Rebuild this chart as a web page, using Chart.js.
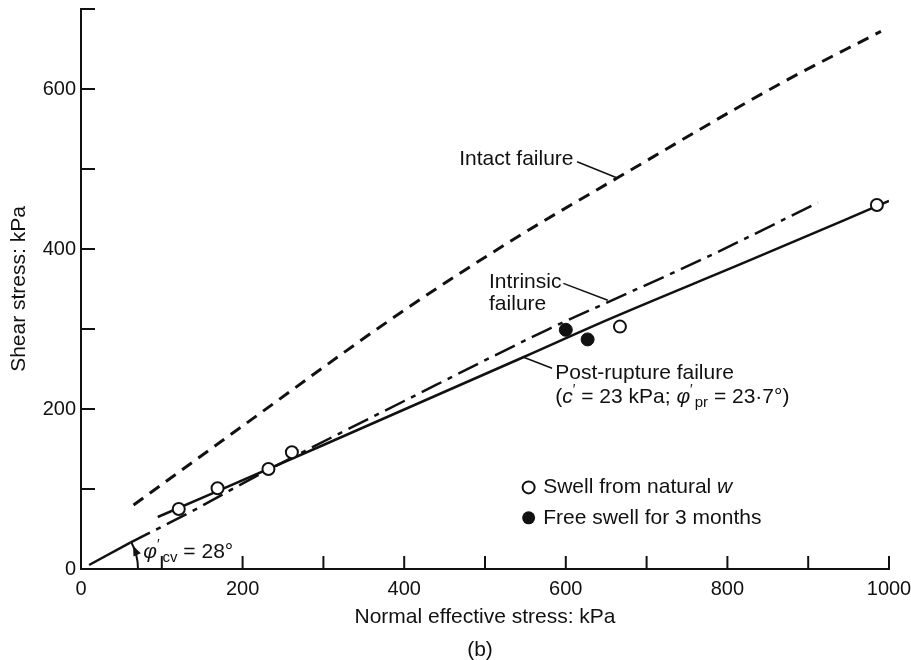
<!DOCTYPE html>
<html>
<head>
<meta charset="utf-8">
<script src="https://cdn.jsdelivr.net/npm/chart.js"></script>
<style>
  html, body { margin: 0; padding: 0; background: #fff; }
  canvas { display: block; }
</style>
</head>
<body>
<canvas id="grafico" width="911" height="660"></canvas>
<script>
// valores (kPa)
const intactX = [65, 203, 395, 532, 664, 866, 990];
const intactY = [80, 181, 320, 410, 489, 607, 672];
const intrinsicX = [61, 137, 213, 400, 577, 653, 775, 912];
const intrinsicY = [33, 72, 114, 210, 299, 334, 390, 458];
const phiCvX = [10, 61];
const phiCvY = [5, 33];
const postRuptureX = [95, 300, 548, 653, 828, 1000];
const postRuptureY = [65, 155, 265, 312, 386, 460];
const swellNaturalX = [121, 169, 232, 261, 667, 985];
const swellNaturalY = [75, 101, 125, 146, 303, 455];
const freeSwellX = [600, 627];
const freeSwellY = [299, 287];
const xTickLabels = [0, 200, 400, 600, 800, 1000];
const yTickLabels = [0, 200, 400, 600];

const FONT = '"Liberation Sans", Arial, Helvetica, sans-serif';
const INK = '#111';

const pares = (xs, ys) => xs.map((v, i) => ({ x: v, y: ys[i] }));

// texto con tramos (cursiva, subindices...)
function tramos(ctx, x, y, partes) {
  let cx = x;
  partes.forEach(p => {
    ctx.font = (p.italic ? 'italic ' : '') + (p.size || 21) + 'px ' + FONT;
    ctx.fillText(p.t, cx, y + (p.dy || 0));
    cx += ctx.measureText(p.t).width + (p.gap || 0);
  });
}

function linea(ctx, x0, y0, x1, y1) {
  ctx.beginPath();
  ctx.moveTo(x0, y0);
  ctx.lineTo(x1, y1);
  ctx.stroke();
}

const anotaciones = {
  id: 'anotaciones',
  afterDraw(chart) {
    const { ctx, scales: { x, y } } = chart;
    const px = v => x.getPixelForValue(v);
    const py = v => y.getPixelForValue(v);
    ctx.save();

    // marcas hacia dentro en los ejes
    ctx.strokeStyle = INK;
    ctx.lineWidth = 2;
    x.ticks.forEach(t => {
      if (t.value === 0) return;
      linea(ctx, px(t.value), y.bottom, px(t.value), y.bottom - 13);
    });
    y.ticks.forEach(t => {
      if (t.value === 0) return;
      linea(ctx, x.left, py(t.value), x.left + 14, py(t.value));
    });

    // arco del angulo phi cv
    const cx = px(0), cy = py(0), r = 57;
    ctx.lineWidth = 2;
    ctx.beginPath();
    ctx.arc(cx, cy, r, -28 * Math.PI / 180, 0);
    ctx.stroke();
    const th = -24 * Math.PI / 180;
    const tipX = cx + r * Math.cos(th), tipY = cy + r * Math.sin(th);
    const dx = Math.sin(th), dy = -Math.cos(th); // sentido antihorario
    const bx = tipX - dx * 10, by = tipY - dy * 10;
    ctx.fillStyle = INK;
    ctx.beginPath();
    ctx.moveTo(tipX, tipY);
    ctx.lineTo(bx - dy * 4, by + dx * 4);
    ctx.lineTo(bx + dy * 4, by - dx * 4);
    ctx.closePath();
    ctx.fill();

    // lineas guia de los rotulos
    ctx.lineWidth = 1.5;
    linea(ctx, px(614), py(509), px(663), py(489));
    linea(ctx, px(597), py(357), px(652), py(336));
    linea(ctx, px(583), py(251), px(547), py(265));

    // rotulos
    ctx.fillStyle = INK;
    ctx.textBaseline = 'middle';
    ctx.textAlign = 'left';
    tramos(ctx, px(468), py(512), [{ t: 'Intact failure' }]);
    tramos(ctx, px(505), py(359), [{ t: 'Intrinsic' }]);
    tramos(ctx, px(505), py(331), [{ t: 'failure' }]);
    tramos(ctx, px(587), py(245), [{ t: 'Post-rupture failure' }]);
    tramos(ctx, px(587), py(215), [
      { t: '(' }, { t: 'c', italic: true }, { t: '\u2032', size: 14, dy: -7 },
      { t: ' = 23 kPa; ' }, { t: '\u03c6', italic: true },
      { t: '\u2032', size: 14, dy: -7, gap: 2 }, { t: 'pr', size: 15, dy: 6 },
      { t: ' = 23\u00b77\u00b0)' }
    ]);
    tramos(ctx, px(77), py(21), [
      { t: '\u03c6', italic: true }, { t: '\u2032', size: 14, dy: -7, gap: 3 },
      { t: 'cv', size: 15, dy: 6 }, { t: ' = 28\u00b0' }
    ]);

    // leyenda
    ctx.lineWidth = 2;
    ctx.strokeStyle = INK;
    ctx.fillStyle = '#fff';
    ctx.beginPath();
    ctx.arc(px(554), py(102), 6, 0, Math.PI * 2);
    ctx.fill();
    ctx.stroke();
    ctx.fillStyle = INK;
    ctx.beginPath();
    ctx.arc(px(554), py(64), 6.5, 0, Math.PI * 2);
    ctx.fill();
    tramos(ctx, px(572), py(102), [{ t: 'Swell from natural ' }, { t: 'w', italic: true }]);
    tramos(ctx, px(572), py(64), [{ t: 'Free swell for 3 months' }]);

    // (b)
    ctx.textAlign = 'center';
    ctx.font = '21px ' + FONT;
    ctx.fillText('(b)', (x.left + x.right) / 2 - 5, y.bottom + 81);

    ctx.restore();
  }
};

const ctx = document.getElementById('grafico').getContext('2d');

new Chart(ctx, {
  type: 'line',
  data: {
    datasets: [
      {
        label: 'Free swell for 3 months',
        data: pares(freeSwellX, freeSwellY),
        showLine: false,
        pointRadius: 6.5,
        pointBorderWidth: 1,
        pointBackgroundColor: INK,
        pointBorderColor: INK
      },
      {
        label: 'Swell from natural w',
        data: pares(swellNaturalX, swellNaturalY),
        showLine: false,
        pointRadius: 6,
        pointBorderWidth: 2,
        pointBackgroundColor: '#fff',
        pointBorderColor: INK
      },
      {
        label: 'Intact failure',
        data: pares(intactX, intactY),
        borderColor: INK,
        borderWidth: 3,
        borderDash: [12, 8],
        pointRadius: 0,
        cubicInterpolationMode: 'monotone',
        fill: false
      },
      {
        label: 'Intrinsic failure',
        data: pares(intrinsicX, intrinsicY),
        borderColor: INK,
        borderWidth: 2.5,
        borderDash: [22, 7, 5, 7],
        pointRadius: 0,
        cubicInterpolationMode: 'monotone',
        fill: false
      },
      {
        label: 'phi cv',
        data: pares(phiCvX, phiCvY),
        borderColor: INK,
        borderWidth: 2.5,
        pointRadius: 0,
        fill: false
      },
      {
        label: 'Post-rupture failure',
        data: pares(postRuptureX, postRuptureY),
        borderColor: INK,
        borderWidth: 2.5,
        pointRadius: 0,
        cubicInterpolationMode: 'monotone',
        fill: false
      }
    ]
  },
  options: {
    responsive: false,
    animation: false,
    devicePixelRatio: 1,
    layout: { padding: { top: 9, right: 22, left: 0, bottom: 0 } },
    plugins: { legend: { display: false }, tooltip: { enabled: false } },
    scales: {
      x: {
        type: 'linear',
        min: 0,
        max: 1000,
        afterFit: s => { s.height = 91; s.paddingLeft = 0; s.paddingRight = 0; },
        grid: { display: false, drawTicks: false },
        border: { display: true, color: INK, width: 2 },
        ticks: {
          stepSize: 100,
          padding: 8,
          color: INK,
          font: { family: FONT, size: 20 },
          maxRotation: 0,
          autoSkip: false,
          callback: v => (xTickLabels.includes(v) ? String(v) : '')
        },
        title: {
          display: true,
          text: 'Normal effective stress: kPa',
          color: INK,
          font: { family: FONT, size: 21 },
          padding: { top: 0, bottom: 30 }
        }
      },
      y: {
        min: 0,
        max: 700,
        afterFit: s => { s.width = 81; s.paddingTop = 0; s.paddingBottom = 0; },
        grid: { display: false, drawTicks: false },
        border: { display: true, color: INK, width: 2 },
        ticks: {
          stepSize: 100,
          padding: 5,
          color: INK,
          font: { family: FONT, size: 20 },
          autoSkip: false,
          callback: v => (yTickLabels.includes(v) ? String(v) : '')
        },
        title: {
          display: true,
          text: 'Shear stress: kPa',
          color: INK,
          font: { family: FONT, size: 21 },
          padding: { top: 7, bottom: 0 }
        }
      }
    }
  },
  plugins: [anotaciones]
});
</script>
</body>
</html>
